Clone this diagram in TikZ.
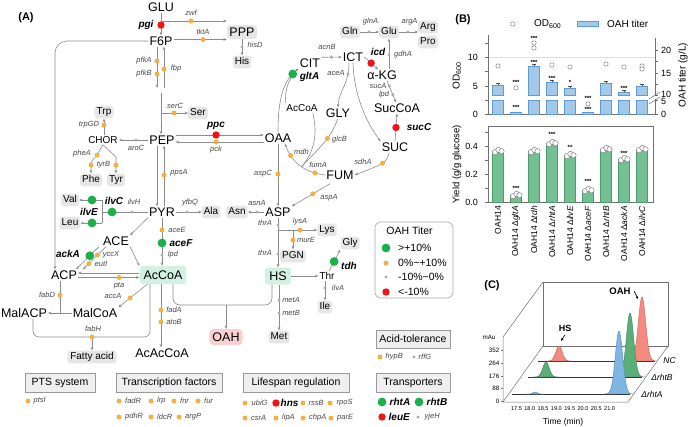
\documentclass[tikz,border=0pt]{standalone}
\usepackage{fontspec}
\setmainfont{Liberation Sans}
\usetikzlibrary{arrows.meta}
\definecolor{lc}{HTML}{8C8C8C}
\definecolor{cgr}{HTML}{1CB04A}
\definecolor{crd}{HTML}{F21414}
\definecolor{cog}{HTML}{F5B041}
\definecolor{cgd}{HTML}{ABABAB}
\definecolor{boxg}{HTML}{E6E6E6}
\definecolor{mint}{HTML}{D3F0E2}
\definecolor{pinkb}{HTML}{F9D0D0}
\definecolor{catf}{HTML}{EFEFEF}
\definecolor{barb}{HTML}{A3C9EA}
\definecolor{barbE}{HTML}{5E9BD1}
\definecolor{barg}{HTML}{74C093}
\definecolor{bargE}{HTML}{4C9C6B}
\definecolor{pkr}{HTML}{F48A80}
\definecolor{pkg}{HTML}{5AAE78}
\definecolor{pkb}{HTML}{7DB6E2}
\definecolor{axc}{HTML}{707070}
\definecolor{odc}{HTML}{808080}
\newcommand\DotG[1]{\fill[cgr] (#1) circle (4.4pt);}
\newcommand\DotO[1]{\fill[cog] (#1) circle (2.5pt);}
\newcommand\DotS[1]{\fill[cgd] (#1) circle (1.7pt);}
\newcommand\DotR[1]{\fill[crd] (#1) circle (3.7pt);}
\newcommand\Peak[5]{\pgfmathsetmacro\PkA{#2-3*#5}\pgfmathsetmacro\PkB{#2+3*#5}%
  \filldraw[fill=#1,draw=#1!75!black,line width=0.4pt] plot[domain=\PkA:\PkB,samples=41,smooth] (\x,{#3-#4*exp(-((\x-#2)/#5)^2)}) -- cycle;}
\begin{document}
\begin{tikzpicture}[x=1pt,y=-1pt,
  met/.style={font=\fontsize{12.5}{14}\selectfont,inner sep=1pt,text height=9pt,text depth=0pt},
  am/.style={font=\fontsize{10}{12}\selectfont,inner sep=1pt,text height=7.2pt,text depth=0pt},
  aa/.style={font=\fontsize{10}{12}\selectfont,fill=boxg,rounded corners=3pt,inner xsep=2pt,inner ysep=1.8pt,text height=7.3pt,text depth=2pt},
  ge/.style={font=\fontsize{7.5}{9}\selectfont\itshape,text=black!72,inner sep=0.5pt},
  gb/.style={font=\fontsize{10}{12}\selectfont\bfseries\itshape,inner sep=0.5pt},
  ln/.style={draw=lc,line width=0.6pt},
  ar/.style={ln,-{Stealth[length=3.4pt,width=2.8pt]}},
  cat/.style={draw=gray!80,fill=catf,font=\fontsize{10.5}{12}\selectfont,minimum height=19pt,inner xsep=3pt,line width=0.6pt},
  lg/.style={font=\fontsize{10.5}{12}\selectfont,anchor=west,inner sep=0pt},
  tk/.style={font=\fontsize{9}{10}\selectfont,inner sep=1pt},
  st/.style={font=\fontsize{6}{6}\selectfont\bfseries,inner sep=0pt},
  xl/.style={font=\fontsize{8.5}{10}\selectfont,rotate=90,anchor=east,inner sep=0pt},
  ct/.style={font=\fontsize{6.3}{7}\selectfont,inner sep=0.5pt},
  cx/.style={font=\fontsize{5.6}{7}\selectfont,inner sep=0pt},
  pl/.style={font=\fontsize{11}{12}\selectfont\bfseries}
]
\useasboundingbox (0,0) rectangle (691,426);
% ================= PANEL A =================
\node[pl] (pA) at (26,18) {(A)};
\node[met] (GLU) at (161,7) {GLU};
\node[met] (F6P) at (161,41) {F6P};
\node[met,fill=boxg,rounded corners=3pt,inner xsep=2.5pt,inner ysep=2.5pt] (PPP) at (242,32) {PPP};
\node[aa] (His) at (242,62) {His};
\draw[ar] (GLU) -- (F6P);
\DotR{161,25} \node[gb] at (146,25) {pgi};
\draw[ar] (GLU.south |- 0,21) -- (PPP.north west |- 0,21);
\DotO{191,21} \node[ge] at (191,13) {zwf};
\draw[ar] (F6P.east |- 0,39.5) -- (PPP.west |- 0,39.5);
\DotO{203,39.5} \node[ge] at (203,31.5) {tktA};
\draw[ar] (PPP) -- (His);
\DotS{242,47} \node[ge] at (255,45) {hisD};
\draw[ar] (F6P.south -| 157,0) -- (157,88);
\draw[ar] (164,88) -- (F6P.south -| 164,0);
\DotO{157,61} \DotO{157,74} \DotO{164,69}
\node[ge] at (144,61) {pfkA}; \node[ge] at (144,74) {pfkB}; \node[ge] at (176,69) {fbp};
% big loop F6P -> ACP
\node[met] (ACP) at (64,275) {ACP};
\draw[ar,rounded corners=12pt] (F6P.west) -- (55,41) -- (ACP.north -| 55,0);
% PEP
\node[met] (PEP) at (162,140) {PEP};
\draw[ar] (161,93) -- (PEP.north -| 161,0);
\node[aa] (Ser) at (198,113) {Ser};
\draw[ar] (161,113) -- (Ser.west);
\DotO{174,113} \node[ge] at (175,106) {serC};
% aromatics
\node[am] (CHOR) at (103,140) {CHOR};
\node[aa] (Trp) at (104,112) {Trp};
\draw[ar] (CHOR.north -| Trp.south) -- (Trp.south);
\DotO{104,125} \node[ge] at (89,125) {trpGD};
\draw[ar] (PEP.west) -- (CHOR.east);
\DotS{136,140} \node[ge] at (136,148) {aroC};
\node[aa] (Phe) at (91,180) {Phe};
\node[aa] (Tyr) at (116,180) {Tyr};
\draw[ar] (CHOR.south) -- (97,155) -- (91,162) -- (Phe.north);
\draw[ar] (CHOR.south) -- (116,157) -- (Tyr.north);
\DotO{97,155} \DotO{91,165} \DotO{116,165}
\node[ge] at (82,154) {pheA}; \node[ge] at (103.5,165) {tyrB};
% branched chain
\node[met] (PYR) at (162,212) {PYR};
\node[aa] (Val) at (70,200) {Val};
\node[aa] (Leu) at (70,223) {Leu};
\draw[ln] (PYR.west) -- (102,212);
\draw[ln] (102,200) -- (102,223);
\draw[ar] (102,200) -- (Val.east);
\draw[ar] (102,223) -- (Leu.east);
\DotS{132,212} \DotG{112,212} \DotG{92,200} \DotG{92,223}
\node[ge] at (134,202) {ilvH}; \node[gb] at (114,201) {ilvC}; \node[gb] at (89,211.5) {ilvE};
% PEP <-> PYR
\draw[ar] (PEP.south -| 157,0) -- (PYR.north -| 157,0);
\draw[ar] (PYR.north -| 164,0) -- (PEP.south -| 164,0);
\DotO{164,175} \node[ge] at (179,173) {ppsA};
% PEP <-> OAA
\node[met] (OAA) at (278,138) {OAA};
\draw[ar] (PEP.east |- 0,135) -- (OAA.west |- 0,135);
\draw[ar] (OAA.west |- 0,142) -- (PEP.east |- 0,142);
\DotR{216,135} \node[gb] at (216,125.5) {ppc};
\DotO{216,142} \node[ge] at (216,149.5) {pck};
% Ala, Asn, ASP
\node[aa] (Ala) at (211,212) {Ala};
\node[aa] (Asn) at (237,212) {Asn};
\node[met] (ASP) at (278,212) {ASP};
\draw[ar] (PYR.east) -- (Ala.west);
\DotS{187,212} \node[ge] at (190,203) {yfbQ};
\draw[ar] (ASP.west) -- (Asn.east);
\DotS{257,212} \node[ge] at (257,203) {asnA};
\draw[ar] (OAA.south) -- (ASP.north);
\DotO{278,174} \node[ge] at (263,174) {aspC};
% ACE, AcCoA
\node[met] (ACE) at (116,241) {ACE};
\node[met,fill=mint,rounded corners=3pt,inner xsep=4pt,minimum height=18pt] (AcCoA) at (163,275) {AcCoA};
\draw[ar] (PYR.south west) -- (ACE.north east);
\draw[ar] (ACE.south east) -- (AcCoA.north west);
\draw[ar] (PYR.south -| 162,0) -- (AcCoA.north -| 162,0);
\DotO{162,230} \DotG{162,243} \DotS{162,255}
\node[ge] at (177,230) {aceE}; \node[gb] at (181,243) {aceF}; \node[ge] at (173,255) {lpd};
\draw[ar] ([xshift=-3pt]ACE.south west) -- coordinate[pos=.4] (ackd) ([xshift=-2pt]ACP.north east);
\draw[ar] ([xshift=4pt]ACE.south west) -- coordinate[pos=.37] (yccd) coordinate[pos=.75] (eutd) ([xshift=5pt]ACP.north east);
\DotG{ackd} \DotO{yccd} \DotO{eutd}
\node[gb] at (68,254) {ackA}; \node[ge] at (111,255) {yccX}; \node[ge] at (101,264) {eutI};
\draw[ar] (AcCoA.west |- 0,273) -- (ACP.east |- 0,273);
\draw[ar] (ACP.east |- 0,277.5) -- (AcCoA.west |- 0,277.5);
\DotO{119,277.5} \node[ge] at (119,286) {pta};
% fatty acids
\node[met] (MalACP) at (24,313) {MalACP};
\node[met] (MalCoA) at (95,313) {MalCoA};
\draw[ln] (ACP.south -| 60,0) -- (60,313);
\draw[ar] (MalCoA.west) -- (MalACP.east);
\DotO{60,295} \node[ge] at (47,295) {fabD};
\draw[ar] ([xshift=8pt]AcCoA.south west) -- coordinate[pos=.6] (accd) (MalCoA.north east);
\DotO{accd} \node[ge] at (113,296) {accA};
\draw[ln,rounded corners=6pt] (MalACP.south -| 33,0) -- (33,337) -- (150,337) -- (AcCoA.south -| 150,0);
\node[aa,inner xsep=3pt] (FA) at (92,357) {Fatty acid};
\draw[ar] (92,337) -- (FA.north);
\DotO{92,337} \node[ge] at (93,329) {fabH};
\node[met] (AcAc) at (162,353) {AcAcCoA};
\draw[ar] (AcCoA.south -| 161,0) -- (AcAc.north -| 161,0);
\DotO{161,310} \DotO{161,322}
\node[ge] at (174,310) {fadA}; \node[ge] at (174,322) {atoB};
% OAH, HS
\node[met,fill=pinkb,rounded corners=4pt,inner xsep=3pt,minimum height=16pt] (OAH) at (226,337) {OAH};
\node[met,fill=mint,rounded corners=3pt,minimum width=26pt,minimum height=17pt] (HS) at (278,276) {HS};
\draw[ln,rounded corners=7pt] (AcCoA.south -| 173,0) -- (173,305) -- (272,305) -- (HS.south -| 272,0);
\draw[ar] (226,305) -- (OAH.north);
\draw[ar] (ASP.south) -- (HS.north);
\DotS{278,225} \DotS{278,254}
\node[ge] at (265,223) {thrA}; \node[ge] at (265,253) {thrA};
\node[aa] (Lys) at (327,230) {Lys};
\node[aa] (PGN) at (293,256) {PGN};
\draw[ar] (278,230) -- (Lys.west);
\draw[ar] (293,230) -- (PGN.north);
\DotO{300,230} \node[ge] at (300,222) {lysA};
\DotO{293,240} \node[ge] at (306,240) {murE};
\node[am] (Thr) at (327,276) {Thr};
\node[aa] (Gly) at (350,243) {Gly};
\node[aa] (Ile) at (325,307) {Ile};
\node[aa] (Met) at (279,337) {Met};
\draw[ar] (HS.east) -- (Thr.west);
\draw[ar] ([xshift=2pt]Thr.north) -- coordinate[pos=.45] (tdhd) (Gly.south west);
\DotG{tdhd} \node[gb] at (349,266) {tdh};
\draw[ar] (Thr.south -| Ile.north) -- (Ile.north);
\DotS{325,288} \node[ge] at (338,288) {ilvA};
\draw[ar] (HS.south -| 279,0) -- (Met.north);
\DotS{279,300} \DotS{279,313}
\node[ge] at (291,300) {metA}; \node[ge] at (291,313) {metB};
% TCA
\node[met] (CIT) at (310,63) {CIT};
\node[met] (ICT) at (353,57) {ICT};
\node[met] (aKG) at (382,75) {α-KG};
\node[met] (SucCoA) at (397,108) {SucCoA};
\node[met] (SUC) at (395,147) {SUC};
\node[met] (FUM) at (340,175) {FUM};
\node[met] (GLY) at (338,113) {GLY};
\node[am] (AcCoB) at (302,108) {AcCoA};
\node[aa] (Gln) at (350,32) {Gln};
\node[aa] (Glu) at (389,32) {Glu};
\node[aa] (Arg) at (428,27) {Arg};
\node[aa] (Pro) at (428,42) {Pro};
\draw[ar] (CIT.north east) -- coordinate[pos=.5] (acnd) (ICT.west);
\DotS{acnd} \node[ge] at (327,47) {acnB};
\draw[ar] (ICT.east) -- coordinate[pos=.5] (icdd) ([xshift=-4pt]aKG.north);
\DotR{icdd} \node[gb] at (378,52) {icd};
\draw[ar] (aKG.north -| Glu.south) -- (Glu.south);
\DotS{389,55} \node[ge] at (403,55) {gdhA};
\draw[ar] (Gln.east) -- (Glu.west);
\DotS{369,32} \node[ge] at (370.5,22) {glnA};
\draw[ar] (Glu.east) -- (Arg.west |- Glu.east);
\DotS{408,32} \node[ge] at (409.5,22) {argA};
\draw[ar] ([xshift=5pt]aKG.south) -- coordinate[pos=.25] (sad) coordinate[pos=.65] (lpdd) ([xshift=-1pt]SucCoA.north);
\DotS{sad} \DotS{lpdd}
\node[ge] at (378,86) {sucA}; \node[ge] at (384,95) {lpd};
\draw[ar] (SUC.north) -- coordinate[pos=.5] (sccd) (SucCoA.south);
\DotR{sccd} \node[gb] at (419,127) {sucC};
\draw[ar] (ICT.south) .. controls (354,95) and (366,122) .. (SUC.north west);
\draw[ar] ([xshift=-4pt]ICT.south) .. controls (349,85) and (339,90) .. coordinate[pos=.2] (aced) (GLY.north);
\DotS{aced} \node[ge] at (336,73) {aceA};
\draw[ar] (OAA.north) .. controls (278,100) and (283,80) .. coordinate[pos=.86] (gltd) (CIT.south west);
\draw[ln] (AcCoB.north west) .. controls (286,88) .. (gltd);
\DotG{gltd} \node[gb] at (309.5,77) {gltA};
\draw[ar] (FUM.west) .. controls (300,172) and (290,158) .. coordinate[pos=.15] (fumd) coordinate[pos=.4] (mald) coordinate[pos=.72] (mdhd) ([xshift=7pt]OAA.south);
\DotO{fumd} \DotO{mdhd}
\node[ge] at (301.5,152) {mdh}; \node[ge] at (318,165) {fumA};
\draw[ln] (GLY.south) .. controls (330,137) .. coordinate[pos=.5] (glcd) (mald);
\draw[ln] ([xshift=-6pt]AcCoB.south east) .. controls (318,135) and (314,152) .. (mald);
\DotO{glcd} \node[ge] at (339.5,140) {glcB};
\draw[ar] ([xshift=-6pt]SUC.south) .. controls (386,163) .. coordinate[pos=.5] (sdhd) (FUM.east);
\DotO{sdhd} \node[ge] at (363,162) {sdhA};
\draw[ar] ([xshift=-10pt,yshift=-3pt]FUM.south) -- coordinate[pos=.45] (aspd) (ASP.north east);
\DotO{aspd} \node[ge] at (329,198) {aspA};
% legend
\node[draw=gray!70,rounded corners=6pt,minimum width=78pt,minimum height=76pt,line width=0.6pt] (leg) at (414,260) {};
\node[font=\fontsize{10.5}{12}\selectfont] (legt) at (409.5,231) {OAH Titer};
\DotG{386,248} \node[lg] at (398,248) {>+10\%};
\DotO{386,263} \node[lg] at (398,263) {0\%\textasciitilde+10\%};
\DotS{386,277} \node[lg] at (398,277) {-10\%\textasciitilde0\%};
\DotR{386,292} \node[lg] at (398,292) {<-10\%};
% categories
\node[cat,minimum width=70pt] (pts) at (60,383) {PTS system};
\node[cat,minimum width=106pt] (tf) at (169,383) {Transcription factors};
\node[cat,minimum width=106pt] (life) at (296,383) {Lifespan regulation};
\node[cat,minimum width=74pt,minimum height=18pt] (acid) at (413,339) {Acid-tolerance};
\node[cat,minimum width=74pt] (trans) at (413,383) {Transporters};
\DotO{28,401} \node[ge,anchor=west] at (33,401) {ptsI};
\foreach \xx/\g in {119/fadR,151/lrp,174/fnr,198/fur} {\DotO{\xx,401} \node[ge,anchor=west] at (\xx+5.5,401) {\g};}
\foreach \xx/\g in {119/pdhR,151/ldcR,179/argP} {\DotO{\xx,417} \node[ge,anchor=west] at (\xx+5.5,417) {\g};}
\DotO{245,403} \node[ge,anchor=west] at (251,403) {ubiG};
\DotR{276,403} \node[gb,anchor=west] at (280,403) {hns};
\DotO{303,403} \node[ge,anchor=west] at (308,403) {rssB};
\DotO{330,403} \node[ge,anchor=west] at (336,403) {rpoS};
\foreach \xx/\g in {245/csrA,276/lipA,303/chpA,331/parE} {\DotO{\xx,418} \node[ge,anchor=west] at (\xx+5.5,418) {\g};}
\DotO{380,357} \node[ge,anchor=west] at (385,357) {hypB};
\DotS{414,357} \node[ge,anchor=west] at (418,357) {rffG};
\DotG{382,402} \node[gb,anchor=west] at (389,402) {rhtA};
\DotG{419,402} \node[gb,anchor=west] at (426,402) {rhtB};
\DotR{382,417} \node[gb,anchor=west] at (388,417) {leuE};
\DotS{418,417} \node[ge,anchor=west] at (424,417) {yjeH};
% ================= PANEL B =================
\node[pl] (pB) at (463,20) {(B)};
\draw[odc,fill=white,line width=0.5pt] (513,24) circle (2.2pt);
\node[font=\fontsize{10}{12}\selectfont,anchor=west,inner sep=0pt] (odl) at (534,24) {OD\textsubscript{600}};
\fill[barb,draw=barbE,line width=0.4pt] (577,21.5) rectangle (598,26);
\node[font=\fontsize{10}{12}\selectfont,anchor=west,inner sep=0pt] (oahlg) at (607,24) {OAH titer};
\draw[gray!25,line width=0.5pt] (488,57) -- (655,57);
\draw[axc,line width=0.6pt] (488,35) -- (488,114.5) -- (655,114.5) -- (655,99);
\draw[axc,line width=0.6pt] (655,96) -- (655,38);
\draw[axc,line width=0.5pt] (649,99) -- (660,92);
\draw[axc,line width=0.5pt] (649,104) -- (660,97);
\foreach \yy in {114.5,100,86,71.5,57,43} {\draw[axc,line width=0.5pt] (485,\yy) -- (488,\yy);}
\foreach \yy in {50,61.5,73,84,95,100,114.5} {\draw[axc,line width=0.5pt] (655,\yy) -- (658,\yy);}
\node[tk,anchor=east] at (479,57) {10};
\node[tk,anchor=east] at (479,86) {5};
\node[tk,anchor=east] at (479,114) {0};
\node[tk,anchor=west] at (660,50) {20};
\node[tk,anchor=west] at (660,73) {15};
\node[tk,anchor=west] at (660,94) {10};
\node[tk,anchor=west] at (660,101.5) {5};
\node[tk,anchor=west] at (660,114) {0};
\node[font=\fontsize{10}{12}\selectfont,rotate=90] at (457,76) {OD\textsubscript{600}};
\node[font=\fontsize{10}{12}\selectfont,rotate=90] at (683,75) {OAH titer (g/L)};
\foreach \i/\t in {1/85,3/66,4/82,5/88,7/83,8/92,9/86} {
  \fill[barb,draw=barbE,line width=0.4pt] (480+18*\i-5.5,\t) rectangle (480+18*\i+5.5,95);
  \fill[barb,draw=barbE,line width=0.4pt] (480+18*\i-5.5,100) rectangle (480+18*\i+5.5,114.5);
  \draw[black!70,line width=0.4pt] (480+18*\i,\t) -- (480+18*\i,\t-1.5) (480+18*\i-2,\t-1.5) -- (480+18*\i+2,\t-1.5);
}
\foreach \i in {2,6} {\fill[barb,draw=barbE,line width=0.4pt] (480+18*\i-5.5,112.5) rectangle (480+18*\i+5.5,114.5);}
\foreach \xx/\yy in {498/66,516/88,534/43,534/48,552/65,570/67,588/104,606/64,624/67,642/66,642/69} {\draw[odc,fill=white,line width=0.5pt] (\xx,\yy) circle (2.2pt);}
\foreach \xx/\yy/\s in {516/82/***,516/107/***,534/38.5/***,534/62/***,552/78/***,570/82/*,588/98/***,588/109/***,624/88/***} {\node[st] at (\xx,\yy) {\s};}
% yield chart
\draw[axc,line width=0.6pt] (488,126) rectangle (653,202);
\foreach \yy in {202,188,174,160,146,132} {\draw[axc,line width=0.5pt] (485,\yy) -- (488,\yy);}
\node[tk,anchor=east] at (479,146) {0.4};
\node[tk,anchor=east] at (479,174) {0.2};
\node[tk,anchor=east] at (479,202) {0.0};
\node[font=\fontsize{9.5}{11}\selectfont,rotate=90] at (457,164) {Yield (g/g glucose)};
\foreach \i/\t in {1/151,2/195,3/151,4/143,5/155,6/190,7/149,8/159,9/149} {
  \fill[barg,draw=bargE,line width=0.4pt] (480+18*\i-5.5,\t) rectangle (480+18*\i+5.5,202);
  \foreach \dx/\dy in {-3/1.2,0.5/-1,3.5/0.3} {\draw[odc,fill=white,line width=0.5pt] ({480+18*\i+(\dx)},{\t+(\dy)}) circle (2.7pt);}
}
\foreach \xx/\yy/\s in {516/188/***,552/134/***,570/147/**,588/181/***,624/153/***} {\node[st] at (\xx,\yy) {\s};}
\node[xl] at (498,206) {OAH14};
\foreach \i/\g in {2/gltA,3/tdh,4/rhtA,5/ilvE,6/aceF,7/rhtB,8/ackA,9/ilvC} {\node[xl] at (480+18*\i,206) {OAH14 Δ\textit{\g}};}
% ================= PANEL C =================
\node[pl] (pC) at (492,286) {(C)};
\draw[axc,line width=0.5pt] (543,346) -- (543,282) -- (668,282) -- (668,346) -- cycle;
\draw[axc,line width=0.5pt] (543,282) -- (503,337) -- (503,402) -- (628,402) -- (668,346);
\draw[axc,line width=0.5pt] (503,402) -- (543,346);
\foreach \yy/\v in {350/352,363/264,376/176,388/88,401/0} {\node[ct,anchor=east] at (500,\yy) {\v}; \draw[axc,line width=0.4pt] (501,\yy) -- (503,\yy);}
\node[ct] at (489,337) {mAu};
\foreach \k/\v in {0/17.5,1/18.0,2/18.5,3/19.0,4/19.5,5/20.0,6/20.5,7/21.0} {\node[cx] at (516.5+13.3*\k,409) {\v};}
\node[font=\fontsize{8.5}{10}\selectfont] (tlab) at (563,422) {Time (min)};
\draw[black!80,line width=0.6pt] (538,361) -- (655,361);
\Peak{pkr}{559}{361}{15}{4.5}
\Peak{pkr}{642}{361}{64}{5.2}
\draw[black!80,line width=0.6pt] (528,377) -- (642,377);
\Peak{pkg}{546}{377}{15}{4.5}
\Peak{pkg}{630}{377}{64}{5.2}
\draw[black!80,line width=0.6pt] (512,394) -- (630,394);
\Peak{pkb}{535}{394}{2}{3}
\Peak{pkb}{619}{394}{63}{5.2}
\node[font=\fontsize{8.5}{10}\selectfont\itshape] at (669.5,361) {NC};
\node[font=\fontsize{8.5}{10}\selectfont\itshape] at (662,377) {ΔrhtB};
\node[font=\fontsize{8.5}{10}\selectfont\itshape] at (652,394) {ΔrhtA};
\node[font=\fontsize{9}{10}\selectfont\bfseries] (hsl) at (565,328) {HS};
\draw[-{Stealth[length=3pt,width=2.5pt]},line width=0.6pt] (hsl.south) -- (561,341);
\node[font=\fontsize{9.5}{10}\selectfont\bfseries] (oahl) at (620,291) {OAH};
\draw[-{Stealth[length=3pt,width=2.5pt]},line width=0.6pt] (oahl.east) -- (638,299);
\end{tikzpicture}
\end{document}
